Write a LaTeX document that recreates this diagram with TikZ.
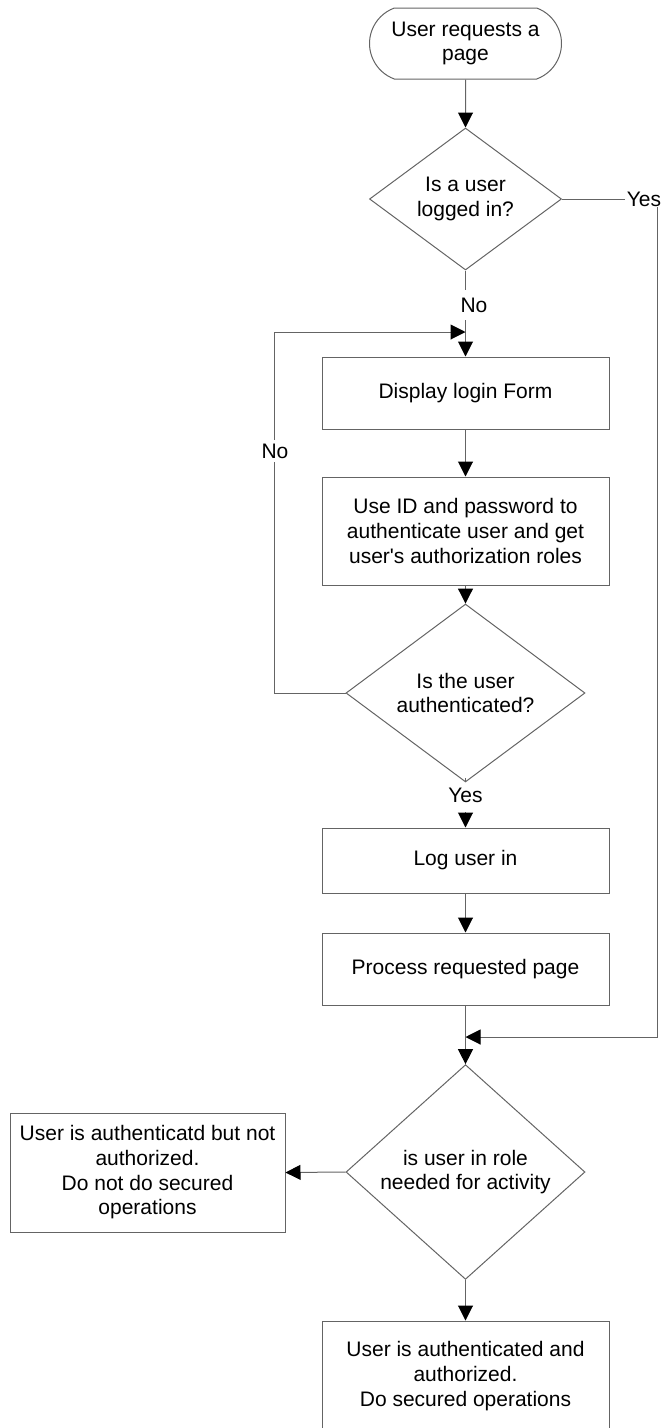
\documentclass[tikz,border=0pt]{standalone}
\usepackage{fontspec}
\setmainfont{Liberation Sans}
\usetikzlibrary{shapes.geometric,shapes.misc,arrows.meta}
\definecolor{edge}{RGB}{100,100,100}
\tikzset{
  txt/.style={font=\fontsize{21}{24.7}\selectfont, text=black, align=center},
  base/.style={txt, draw=edge, line width=1pt, inner sep=0pt},
  procbox/.style={base, rectangle, minimum width=287pt, minimum height=#1},
  terminal/.style={base, rounded rectangle, rounded rectangle arc length=140,
    minimum width=192pt, minimum height=71pt},
  decision/.style={base, diamond},
  lbl/.style={txt, inner sep=0pt},
  conn/.style={draw=edge, line width=1pt},
  arr/.style={conn, -{Triangle[length=15pt,width=15pt,color=black]}}
}
\begin{document}
\begin{tikzpicture}[x=1pt,y=-1pt]
  \useasboundingbox (0,0) rectangle (667,1428);
  \clip (0,0) rectangle (667,1428);

  % nodes of the flow
  \node[terminal] (start) at (465.5,43.5) {User requests a\\page};
  \node[decision, minimum width=192pt, minimum height=142pt] (d1) at (465.5,199)
    {Is a user\\logged in?};
  \node[procbox=72pt] (b1) at (465.5,393) {Display login Form};
  \node[procbox=108pt] (b2) at (465.5,531)
    {Use ID and password to\\authenticate user and get\\user\textquotesingle s authorization roles};
  \node[decision, minimum width=239pt, minimum height=142pt] (d2) at (465.5,693)
    {Is the user\\authenticated?};
  \node[procbox=65pt] (b3) at (465.5,860.5) {Log user in};
  \node[procbox=72pt] (b4) at (465.5,969) {Process requested page};
  \node[decision, minimum width=239pt, minimum height=191pt] (d3) at (465.5,1172)
    {is user in role\\needed for activity};
  \node[base, rectangle, minimum width=275pt, minimum height=119pt] (deny) at (147.5,1172.5)
    {User is authenticatd but not\\authorized.\\Do not do secured\\operations};
  \node[procbox=110pt] (ok) at (465.5,1376)
    {User is authenticated and\\authorized.\\Do secured operations};

  % branch labels
  \node[lbl] (yes1) at (644,199) {Yes};
  \node[lbl] (no1) at (474,305) {No};
  \node[lbl] (yes2) at (465.5,795) {Yes};

  % bend and junction points
  \coordinate (no1a) at (465.5,290);
  \coordinate (no1b) at (465.5,320);
  \coordinate (yes2a) at (465.5,778);
  \coordinate (yes2b) at (465.5,812);
  \coordinate (yr) at (657,207);
  \coordinate (j1) at (465.5,332);
  \coordinate (j2) at (465.5,1037);
  \coordinate (lp) at (274,693);
  \coordinate (lt) at (274,332);

  % connectors
  \draw[arr] (start) -- (d1.north);
  \draw[conn] (d1.east) -- ([xshift=-2pt]yes1.west);
  \draw[arr] (yr) |- (j2);
  \draw[conn] (d1.south) -- (no1a);
  \draw[arr] (no1b) -- (b1.north);
  \draw[arr] (b1) -- (b2);
  \draw[arr] (b2) -- (d2.north);
  \draw[arr] (d2.west) -- (lp) -- (lt) -- (j1);
  \node[lbl, fill=white, inner ysep=4pt] (no2) at (275,451) {No};
  \draw[conn] (d2.south) -- (yes2a);
  \draw[arr] (yes2b) -- (b3.north);
  \draw[arr] (b3) -- (b4);
  \draw[arr] (b4) -- (d3.north);
  \draw[arr] (d3.west) -- (deny.east);
  \draw[arr] (d3.south) -- (ok.north);
\end{tikzpicture}
\end{document}
